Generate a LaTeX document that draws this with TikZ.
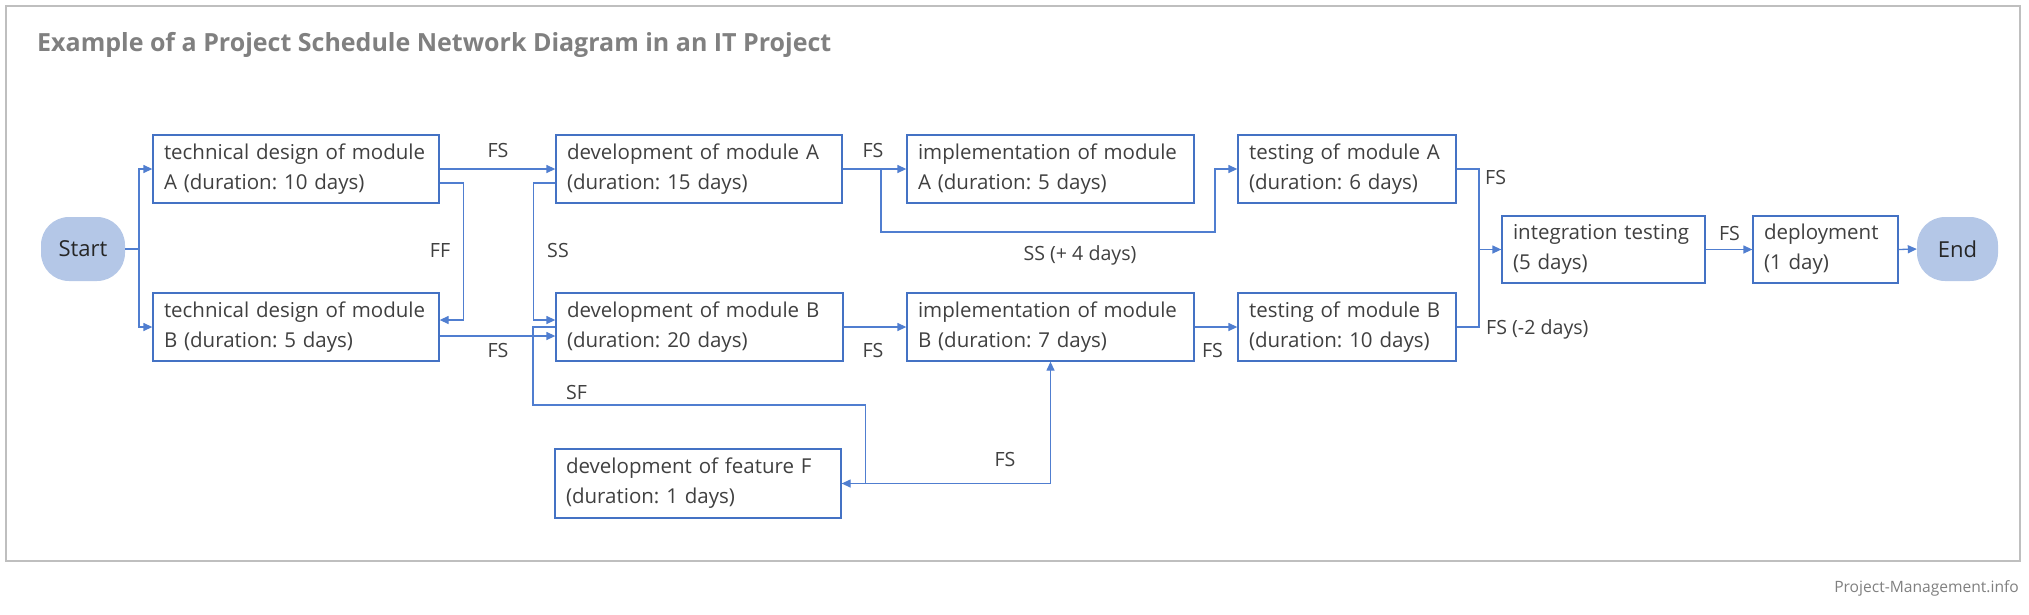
\documentclass[tikz,border=0pt]{standalone}
\usepackage{fontspec}
\setmainfont{Open Sans}
\frenchspacing
\usetikzlibrary{arrows.meta,calc}
\definecolor{boxblue}{RGB}{68,114,196}
\definecolor{linblue}{RGB}{80,126,208}
\definecolor{txt}{RGB}{64,64,64}
\definecolor{ttl}{RGB}{128,128,128}
\definecolor{frm}{RGB}{191,191,191}
\definecolor{pill}{RGB}{180,199,231}
\tikzset{
  task/.style={draw=boxblue, line width=1.3pt, fill=white, text=txt, align=left,
    inner xsep=11pt, inner ysep=0pt, minimum height=68pt,
    font=\fontsize{20.5}{30}\selectfont},
  term/.style={fill=pill, rounded corners=28pt, minimum width=84pt, minimum height=64pt,
    inner sep=0pt, text=black!85, font=\fontsize{22}{24}\selectfont},
  conn/.style={draw=linblue, line width=1.3pt, -{Triangle[length=9pt,width=8pt]}},
  plain/.style={draw=linblue, line width=1.3pt},
  lbl/.style={text=txt, inner sep=0pt, font=\fontsize{19.6}{22}\selectfont},
}
\begin{document}
\begin{tikzpicture}[x=1pt,y=-1pt]
\useasboundingbox (0,0) rectangle (2029,614);
\draw[frm, line width=1.2pt] (6,6) rectangle (2020,561);
\node[anchor=west, text=ttl, inner sep=0pt, font=\bfseries\fontsize{25}{30}\selectfont] (title) at (37,45) {Example of a Project Schedule Network Diagram in an IT Project};
\node[anchor=east, text=ttl, inner sep=0pt, font=\fontsize{15.6}{18}\selectfont] (foot) at (2019,588) {Project-Management.info};

\node[term] (start) at (83,249) {Start};
\node[term, minimum width=81pt] (end) at (1957.5,249) {End};

\node[task, text width=264pt] (tda) at (296,169) {technical design of module\\A (duration: 10 days)};
\node[task, text width=264pt] (tdb) at (296,327) {technical design of module\\B (duration: 5 days)};
\node[task, text width=264pt] (deva) at (699,169) {development of module A\\(duration: 15 days)};
\node[task, text width=265pt] (devb) at (699.5,327) {development of module B\\(duration: 20 days)};
\node[task, text width=265pt] (impla) at (1050.5,169) {implementation of module\\A (duration: 5 days)};
\node[task, text width=265pt] (implb) at (1050.5,327) {implementation of module\\B (duration: 7 days)};
\node[task, text width=196pt] (testa) at (1347,169) {testing of module A\\(duration: 6 days)};
\node[task, text width=196pt] (testb) at (1347,327) {testing of module B\\(duration: 10 days)};
\node[task, text width=181pt, minimum height=67pt] (int) at (1603.5,249.5) {integration testing\\(5 days)};
\node[task, text width=123pt, minimum height=67pt] (dep) at (1825.5,249.5) {deployment\\(1 day)};
\node[task, text width=264pt, minimum height=69pt] (featf) at (698,483.5) {development of feature F\\(duration: 1 days)};

% start
\coordinate (sj) at (139,249);
\draw[plain] (start.east) -- (sj);
\draw[conn] (sj) |- (tda.west);
\draw[conn] (sj) |- (tdb.west);
% TDA -> DevA FS
\draw[conn] (tda.east) -- (deva.west);
\node[lbl] (lfs1) at (498,150) {FS};
% FF
\draw[conn] ($(tda.east)+(0,14)$) -- ++(24,0) |- ($(tdb.east)+(0,-7)$);
\node[lbl] (lff) at (440,250) {FF};
% SS
\draw[conn] ($(deva.west)+(0,14)$) -- ++(-22,0) |- ($(devb.west)+(0,-7)$);
\node[lbl] (lss) at (558,250) {SS};
% TDB -> DevB FS
\draw[conn] ($(tdb.east)+(0,9)$) -- ($(devb.west)+(0,9)$);
\node[lbl] (lfs2) at (498,350) {FS};
% SF
\coordinate (sf1) at (533,405);
\coordinate (sf2) at (865.5,405);
\draw[conn] (devb.west) -| (sf1) -- (sf2) |- (featf.east);
\node[lbl] (lsf) at (576.5,392) {SF};
% FeatF -> ImplB FS
\draw[conn] (featf.east) -| (implb.south);
\node[lbl] (lfs3) at (1005,459) {FS};
% DevA -> ImplA FS
\draw[conn] (deva.east) -- (impla.west);
\node[lbl] (lfs4) at (873,150) {FS};
% SS +4
\coordinate (ss4) at (881,169);
\coordinate (ss4b) at (1215,232);
\draw[conn] (ss4) |- (ss4b) |- (testa.west);
\node[lbl] (lss4) at (1080,255) {SS (+ 4 days)};
% DevB -> ImplB
\draw[conn] (devb.east) -- (implb.west);
\node[lbl] (lfs5) at (873,350) {FS};
% ImplB -> TestB
\draw[conn] (implb.east) -- (testb.west);
\node[lbl] (lfs6) at (1212.5,350) {FS};
% Tests -> Int
\coordinate (mj) at (1479,249.5);
\draw[plain] (testa.east) -| (mj);
\draw[plain] (testb.east) -| (mj);
\draw[conn] (mj) -- (int.west);
\node[lbl, anchor=west] (lfs7) at (1485,177) {FS};
\node[lbl, anchor=west] (lfs8) at (1486,329) {FS (-2 days)};
% Int -> Dep -> End
\draw[conn] (int.east) -- (dep.west);
\node[lbl] (lfs9) at (1729.5,233) {FS};
\draw[conn] (dep.east) -- (end.west);
\end{tikzpicture}
\end{document}
